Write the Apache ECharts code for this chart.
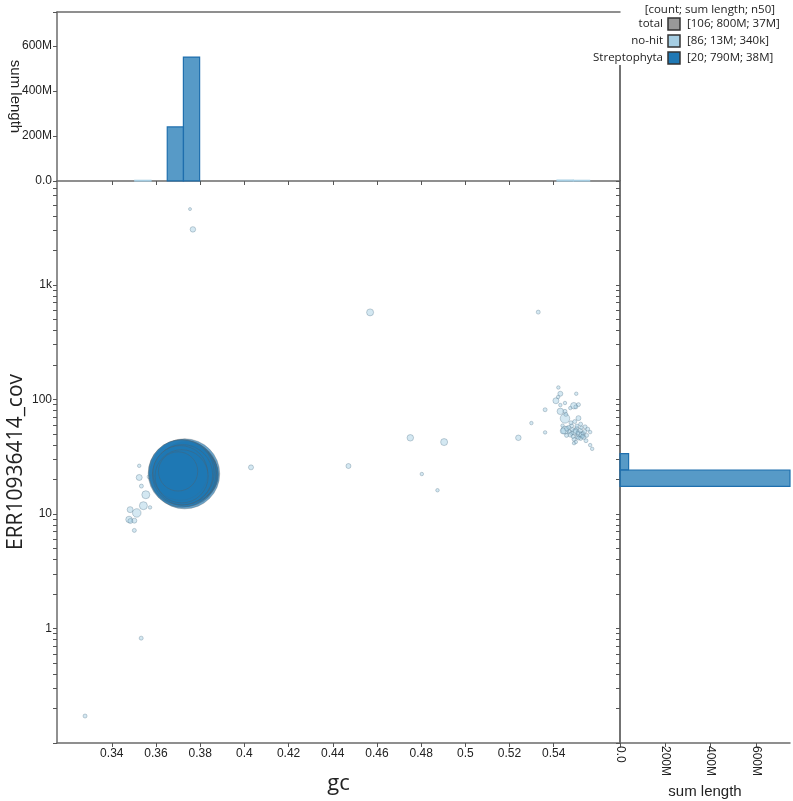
<!DOCTYPE html>
<html>
<head>
<meta charset="utf-8">
<script src="https://cdn.jsdelivr.net/npm/echarts@6/dist/echarts.min.js"></script>
<style>
  html, body { margin: 0; padding: 0; background: #fff; }
  #chart { width: 793px; height: 801px; }
</style>
</head>
<body>
<div id="chart"></div>
<script>
// axis ranges / ticks
const gcMin = 0.3152, gcMax = 0.5700;
const covMin = 0.1, covMax = 8067;
const gcTicks = [0.34, 0.36, 0.38, 0.4, 0.42, 0.44, 0.46, 0.48, 0.5, 0.52, 0.54];
const covLabelValues = [1, 10, 100, 1000];
const covLabelTexts = ['1', '10', '100', '1k'];
const lenTicks = [0, 200e6, 400e6, 600e6];
const lenMax = 750e6;

// no-hit contigs: gc, coverage, length (bp)
const nohitGc = [0.3754, 0.3767, 0.3524, 0.3524, 0.3534, 0.3554, 0.3543, 0.3573, 0.3483, 0.3513,
  0.3478, 0.3502, 0.3484, 0.3502, 0.3569, 0.4030, 0.4471, 0.4569, 0.5330, 0.4751,
  0.4904, 0.4803, 0.4874, 0.5240, 0.5299, 0.5361, 0.5361, 0.3533, 0.3279,
  0.5421, 0.5430, 0.5502, 0.5410, 0.5430, 0.5451, 0.5491, 0.5512, 0.5500, 0.5430,
  0.5451, 0.5451, 0.5512, 0.5481, 0.5522, 0.5504, 0.5542, 0.5554, 0.5451, 0.5443,
  0.5470, 0.5494, 0.5515, 0.5526, 0.5533, 0.5481, 0.5506, 0.5565, 0.5522, 0.5492,
  0.5546, 0.5492, 0.5565, 0.5574, 0.5536, 0.5460, 0.5475, 0.5485, 0.5500, 0.5510,
  0.5520, 0.5530, 0.5512, 0.5540, 0.5488, 0.5468, 0.5505, 0.5525, 0.5478, 0.5440,
  0.5495, 0.5455, 0.5475, 0.5420, 0.5549, 0.5500, 0.5458];
const nohitCov = [4590, 3050, 26.3, 20.8, 17.5, 14.7, 11.8, 11.4, 10.9, 10.2,
  8.95, 8.73, 8.67, 7.18, 21.1, 25.5, 26.2, 575, 578, 46.2,
  42.4, 22.3, 16.1, 46.2, 62.1, 81.2, 51.5, 0.823, 0.172,
  127, 112, 112, 97.3, 89.2, 93, 88, 90, 86, 78.6,
  78.6, 68.2, 68.6, 58.8, 60.8, 56.0, 57.6, 55, 53.9, 53,
  52.5, 51.8, 49.8, 48.9, 50.5, 50.5, 47, 51.8, 45.6, 44.8,
  43.6, 41.5, 39.9, 37, 46.8, 55.5, 49, 54.5, 53, 51,
  53.5, 47.5, 46, 52.5, 47.5, 57, 58.5, 56.5, 62.5, 59,
  64, 74, 84, 105, 48.5, 42.5, 48.5];
const nohitLen = [13000, 160000, 29000, 208000, 52000, 467000, 467000, 29000, 208000, 548000,
  263000, 117000, 117000, 52000, 52000, 117000, 117000, 324000, 52000, 263000,
  324000, 29000, 29000, 160000, 29000, 52000, 29000, 52000, 52000,
  29000, 117000, 29000, 208000, 29000, 29000, 263000, 52000, 52000, 263000,
  52000, 730000, 117000, 52000, 52000, 52000, 52000, 52000, 467000, 208000,
  52000, 208000, 263000, 117000, 52000, 52000, 52000, 29000, 52000, 52000,
  52000, 29000, 29000, 29000, 81000, 117000, 81000, 52000, 117000, 52000,
  81000, 52000, 52000, 52000, 52000, 52000, 52000, 29000, 52000, 29000,
  52000, 52000, 29000, 29000, 52000, 29000, 52000];

// Streptophyta contigs
const strepGc = [0.3730, 0.3735, 0.3740, 0.3732, 0.3745, 0.3738, 0.3750, 0.3728, 0.3755, 0.3760,
  0.3764, 0.3748, 0.3758, 0.3742, 0.3718, 0.3715, 0.3720, 0.3710, 0.3716, 0.3700];
const strepCov = [22.4, 22.0, 22.8, 23.2, 21.8, 24.6, 22.5, 21.5, 23.0, 22.2,
  22.0, 23.5, 21.6, 22.1, 22.6, 23.0, 22.0, 22.8, 21.3, 23.5];
const strepLen = [60e6, 49e6, 46e6, 42e6, 40e6, 38e6, 37e6, 36e6, 35e6, 34e6,
  33e6, 33e6, 32e6, 35e6, 56e6, 52e6, 44e6, 36e6, 34e6, 18e6];

// histograms: gc bins (top) and coverage bins (right)
const gcBinWidth = 0.00735;
const strepGcBinStart = [0.3651, 0.3724];
const strepGcBinLen = [240e6, 550e6];
const nohitGcBinStart = [0.3504, 0.5415, 0.5489];
const nohitGcBinLen = [3e6, 4e6, 3e6];
const covBinWidth = 0.143; // log10 units
const strepCovBinStart = [17.4, 24.2];
const strepCovBinLen = [755e6, 38e6];

// legend
const legendNames = ['total', 'no-hit', 'Streptophyta'];
const legendStats = ['[106; 800M; 37M]', '[86; 13M; 340k]', '[20; 790M; 38M]'];
const legendColors = ['#999999', '#a6cee3', '#1f78b4'];

const log10 = Math.log10;
const covTickValues = [];
[0.1, 1, 10, 100, 1000].forEach(d => {
  for (let m = 1; m <= 9; m++) {
    if (d * m <= covMax) covTickValues.push(log10(d * m));
  }
});

const size = len => 2 + 0.00878 * Math.sqrt(len);
const tickFont = { fontFamily: 'Liberation Sans', fontSize: 12, color: '#222' };
const axisLine = { show: true, onZero: false, lineStyle: { color: '#6b6b6b', width: 1.5 } };
const axisTick = (vals) => ({ show: true, length: 4, customValues: vals, lineStyle: { color: '#555' } });
const lenLabel = v => v === 0 ? '0.0' : (v / 1e6) + 'M';

function histGc(color, stroke) {
  return function (params, api) {
    const p0 = api.coord([api.value(0), 0]);
    const p1 = api.coord([api.value(0) + gcBinWidth, api.value(1)]);
    const rect = echarts.graphic.clipRectByRect(
      { x: p0[0], y: p1[1], width: p1[0] - p0[0], height: p0[1] - p1[1] },
      params.coordSys);
    return rect && { type: 'rect', shape: rect, style: { fill: color, stroke: stroke, lineWidth: 1.2 } };
  };
}
function histCov(color, stroke) {
  return function (params, api) {
    const lo = log10(api.value(0));
    const p0 = api.coord([0, lo]);
    const p1 = api.coord([api.value(1), lo + covBinWidth]);
    const rect = echarts.graphic.clipRectByRect(
      { x: p0[0], y: p1[1], width: p1[0] - p0[0], height: p0[1] - p1[1] },
      params.coordSys);
    return rect && { type: 'rect', shape: rect, style: { fill: color, stroke: stroke, lineWidth: 1.2 } };
  };
}

const legendFont = '11.5px "Open Sans"';
const legendGraphics = [{
  type: 'text', x: 775, y: 10,
  style: { text: '[count; sum length; n50]', font: legendFont, fill: '#222', align: 'right', verticalAlign: 'middle' }
}];
legendNames.forEach((n, i) => {
  const yc = 24 + i * 17;
  legendGraphics.push({
    type: 'text', x: 663, y: yc,
    style: { text: n, font: legendFont, fill: '#222', align: 'right', verticalAlign: 'middle' }
  });
  legendGraphics.push({
    type: 'rect', shape: { x: 668, y: yc - 6, width: 12, height: 12 },
    style: { fill: legendColors[i], stroke: '#333', lineWidth: 1.5 }
  });
  legendGraphics.push({
    type: 'text', x: 687, y: yc,
    style: { text: legendStats[i], font: legendFont, fill: '#222', verticalAlign: 'middle' }
  });
});
legendGraphics.push({
  type: 'line', shape: { x1: 620, y1: 65, x2: 620, y2: 181 },
  style: { stroke: '#444', lineWidth: 1.5 }
});

const gridBase = { outerBoundsMode: 'none', containLabel: false };
const chart = echarts.init(document.getElementById('chart'), null, { renderer: 'canvas' });
chart.setOption({
  animation: false,
  backgroundColor: '#fff',
  grid: [
    Object.assign({ left: 57, top: 12, width: 563, height: 169 }, gridBase),
    Object.assign({ left: 57, top: 181, width: 563, height: 562 }, gridBase),
    Object.assign({ left: 620, top: 181, width: 170, height: 562 }, gridBase)
  ],
  xAxis: [
    { gridIndex: 1, type: 'value', min: gcMin, max: gcMax, axisLine: axisLine,
      axisTick: axisTick(gcTicks), splitLine: { show: false },
      axisLabel: Object.assign({ customValues: gcTicks, margin: 5 }, tickFont),
      name: 'gc', nameLocation: 'middle', nameGap: 30,
      nameTextStyle: { fontFamily: 'Open Sans', fontSize: 22, color: '#222' } },
    { gridIndex: 0, type: 'value', min: gcMin, max: gcMax, axisLine: axisLine,
      axisTick: axisTick(gcTicks), splitLine: { show: false }, axisLabel: { show: false } },
    { gridIndex: 0, type: 'value', position: 'top', min: gcMin, max: gcMax, axisLine: axisLine,
      axisTick: { show: false }, splitLine: { show: false }, axisLabel: { show: false } },
    { gridIndex: 2, type: 'value', min: 0, max: lenMax, axisLine: axisLine,
      axisTick: axisTick(lenTicks), splitLine: { show: false },
      axisLabel: Object.assign({ customValues: lenTicks, rotate: -90, margin: 3, formatter: lenLabel }, tickFont),
      name: 'sum length', nameLocation: 'middle', nameGap: 37,
      nameTextStyle: { fontFamily: 'Liberation Sans', fontSize: 15, color: '#222' } }
  ],
  yAxis: [
    { gridIndex: 1, type: 'value', min: log10(covMin), max: log10(covMax), axisLine: axisLine,
      axisTick: axisTick(covTickValues), splitLine: { show: false },
      axisLabel: Object.assign({
        customValues: covLabelValues.map(log10), margin: 5,
        formatter: v => covLabelTexts[Math.round(v)]
      }, tickFont),
      name: 'ERR10936414_cov', nameLocation: 'middle', nameGap: 30, nameRotate: 90,
      nameMoveOverlap: false,
      nameTextStyle: { fontFamily: 'Open Sans', fontSize: 21, color: '#222' } },
    { gridIndex: 0, type: 'value', min: 0, max: lenMax, axisLine: axisLine,
      axisTick: axisTick(lenTicks.concat([lenMax])), splitLine: { show: false },
      axisLabel: Object.assign({ customValues: lenTicks, margin: 5, formatter: lenLabel }, tickFont),
      name: 'sum length', nameLocation: 'middle', nameGap: 34, nameRotate: -90,
      nameMoveOverlap: false,
      nameTextStyle: { fontFamily: 'Liberation Sans', fontSize: 15, color: '#222' } },
    { gridIndex: 2, type: 'value', min: log10(covMin), max: log10(covMax),
      axisLine: { show: true, onZero: false, lineStyle: { color: '#444', width: 1.5 } },
      axisTick: axisTick(covTickValues), splitLine: { show: false }, axisLabel: { show: false } }
  ],
  series: [
    { type: 'custom', xAxisIndex: 1, yAxisIndex: 1,
      renderItem: histGc('rgba(166,206,227,0.7)', '#a6cee3'),
      data: nohitGcBinStart.map((g, i) => [g, nohitGcBinLen[i]]) },
    { type: 'custom', xAxisIndex: 1, yAxisIndex: 1,
      renderItem: histGc('rgba(31,120,180,0.75)', '#1f6fae'),
      data: strepGcBinStart.map((g, i) => [g, strepGcBinLen[i]]) },
    { type: 'custom', xAxisIndex: 3, yAxisIndex: 2,
      renderItem: histCov('rgba(31,120,180,0.75)', '#1f6fae'),
      data: strepCovBinStart.map((c, i) => [c, strepCovBinLen[i]]) },
    { type: 'scatter', xAxisIndex: 0, yAxisIndex: 0, name: 'no-hit',
      symbolSize: v => size(v[2]),
      itemStyle: { color: 'rgba(166,206,227,0.6)', borderColor: 'rgba(90,120,140,0.55)', borderWidth: 0.8 },
      data: nohitGc.map((g, i) => [g, log10(nohitCov[i]), nohitLen[i]]) },
    { type: 'scatter', xAxisIndex: 0, yAxisIndex: 0, name: 'Streptophyta',
      symbolSize: v => size(v[2]),
      itemStyle: { color: 'rgba(31,120,180,0.85)', borderColor: 'rgba(90,90,90,0.4)', borderWidth: 1 },
      data: strepGc.map((g, i) => [g, log10(strepCov[i]), strepLen[i]]) }
  ],
  graphic: legendGraphics
});
</script>
</body>
</html>
